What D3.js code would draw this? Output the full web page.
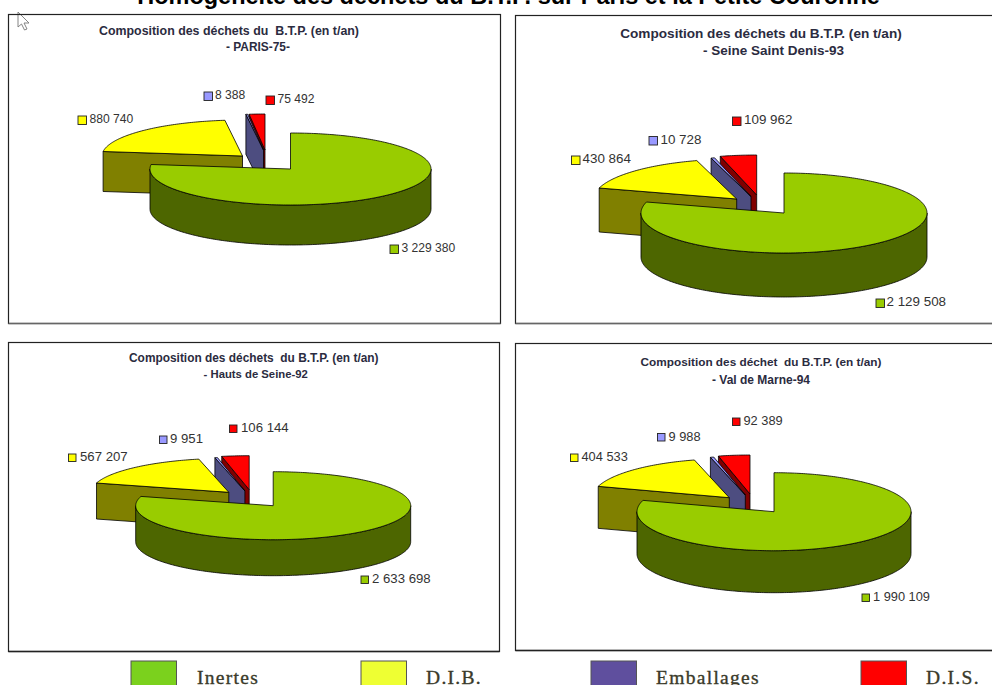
<!DOCTYPE html>
<html><head><meta charset="utf-8">
<script src="https://cdnjs.cloudflare.com/ajax/libs/d3/7.8.5/d3.min.js"></script>
<style>html,body{margin:0;padding:0;background:#fff;overflow:hidden}svg{display:block}</style>
</head><body><svg id="c" width="992" height="685"></svg>
<script>
// DATA
const mainTitle = "Homogénéité des déchets du B.T.P. sur Paris et la Petite Couronne";
const categories = ["Inertes", "D.I.B.", "Emballages", "D.I.S."];
const valuesParis = [3229380, 880740, 8388, 75492];
const valuesSeineSaintDenis = [2129508, 430864, 10728, 109962];
const valuesHautsDeSeine = [2633698, 567207, 9951, 106144];
const valuesValDeMarne = [1990109, 404533, 9988, 92389];
const titleParis = ["Composition des déchets du  B.T.P. (en t/an)", "- PARIS-75-"];
const titleSeine = ["Composition des déchets du B.T.P. (en t/an)", "- Seine Saint Denis-93"];
const titleHauts = ["Composition des déchets  du B.T.P. (en t/an)", "- Hauts de Seine-92"];
const titleVal = ["Composition des déchet  du B.T.P. (en t/an)", "- Val de Marne-94"];

// STYLE / LAYOUT
const topColors = ["#99CC00", "#FFFF00", "#9999FF", "#FF0000"];
const sideColors = ["#4D6600", "#808000", "#4D4D80", "#800000"];
const legendColors = ["#7BD11D", "#EEFF33", "#5F4F9E", "#FF0000"];
const panels = [
  {values: valuesParis, title: titleParis, frame:[8.5,14.5,492,309], bottom:"#666", c:[290.5,169], rx:140.5, ry:36, depth:40,
   off:[[0,0],[-48,-13],[-27,-19],[-25.5,-19]],
   marks:[[390,245],[78,116],[204,92],[266,96]], tx:[401.5,89.5,215,277.5], ms:8.5, ls:12.1, lb:6.5,
   tl:[{x:229,y:35,s:12.4},{x:258,y:50.5,s:11.9}]},
  {values: valuesSeineSaintDenis, title: titleSeine, frame:[515.5,15.5,490,308], bottom:"#666", c:[784,213], rx:143, ry:40, depth:44,
   off:[[0,0],[-47.3,-14],[-33,-16.5],[-27.3,-18]],
   marks:[[876,299],[571.5,156],[649,136.5],[732.5,117]], tx:[886.5,582.5,660.5,744], ms:8.5, ls:13.4, lb:7,
   tl:[{x:761,y:37.5,s:13.6},{x:773.5,y:55,s:13.5}]},
  {values: valuesHautsDeSeine, title: titleHauts, frame:[8.5,342.5,491,309], bottom:"#222", c:[273.2,505.7], rx:137.5, ry:34, depth:36,
   off:[[0,0],[-44.4,-13.4],[-28.3,-14.8],[-24,-16]],
   marks:[[361,576],[68.5,454],[159.5,436],[229.5,425]], tx:[372,80,170,241], ms:7.5, ls:13.2, lb:7,
   tl:[{x:253.8,y:362,s:11.9},{x:255.7,y:377.5,s:11.3}]},
  {values: valuesValDeMarne, title: titleVal, frame:[515.5,343.5,490,307], bottom:"#222", c:[774,511.7], rx:137, ry:39, depth:42,
   off:[[0,0],[-44.7,-14],[-28.7,-16.7],[-24,-17.7]],
   marks:[[862,594],[570.5,454],[657.5,433.5],[732.5,418]], tx:[873,581.5,668.5,743.5], ms:7.5, ls:12.8, lb:7,
   tl:[{x:761,y:366,s:11.8},{x:761,y:383.5,s:12}]}
];
const legendX = [131, 361, 591, 861];
const legendTextX = [197, 426, 656, 926];

const svg = d3.select("#c");
const fmt = d3.formatLocale({decimal:",", thousands:" ", grouping:[3], currency:["",""]}).format(",d");
const pie = d3.pie().sort(null).value(d => d).startAngle(0).endAngle(2*Math.PI);
const line = d3.line();
const outline = {stroke:"#000", width:0.8};

svg.append("text").attr("x", 508.5).attr("y", 4).attr("text-anchor","middle")
  .attr("font-family","'Liberation Sans',Arial,sans-serif").attr("font-weight","bold").attr("font-size",23.5)
  .attr("fill","#000").text(mainTitle);

// mouse pointer
svg.append("path").attr("d","M18 12V27L21.5 24L24.5 30L27 29L24 23H29Z")
  .attr("fill","#fff").attr("stroke","#777").attr("stroke-width",0.9);

panels.forEach(p => {
  const g = svg.append("g");
  g.append("rect").attr("x",p.frame[0]).attr("y",p.frame[1]).attr("width",p.frame[2]).attr("height",p.frame[3])
    .attr("fill","none").attr("stroke","#222").attr("stroke-width",1.2);
  g.append("line").attr("x1",p.frame[0]).attr("x2",p.frame[0]+p.frame[2])
    .attr("y1",p.frame[1]+p.frame[3]).attr("y2",p.frame[1]+p.frame[3])
    .attr("stroke",p.bottom).attr("stroke-width",1.4);
  p.tl.forEach((t,i) => g.append("text").attr("x",t.x).attr("y",t.y).attr("text-anchor","middle")
    .attr("font-family","'Liberation Sans',Arial,sans-serif").attr("font-weight","bold").attr("font-size",t.s)
    .attr("fill","#2b2b40").style("white-space","pre").text(p.title[i]));

  const arcs = pie(p.values);
  const pt = (a, o) => [p.c[0]+o[0]+p.rx*Math.sin(a), p.c[1]+o[1]-p.ry*Math.cos(a)];
  const arcPts = (a0,a1,o) => {
    const n = Math.max(2, Math.ceil((a1-a0)*60));
    return d3.range(n+1).map(i => pt(a0+(a1-a0)*i/n, o));
  };
  const shift = pts => pts.map(d => [d[0], d[1]+p.depth]);
  const face = (pts, fill) => g.append("path").attr("d", line(pts)+"Z").attr("fill",fill)
    .attr("stroke",outline.stroke).attr("stroke-width",outline.width).attr("stroke-linejoin","round");

  [3,2,1,0].forEach(i => {
    const a = arcs[i], o = p.off[i];
    const ctr = [p.c[0]+o[0], p.c[1]+o[1]];
    if (Math.sin(a.startAngle) < -1e-6) {
      const e = pt(a.startAngle, o);
      face([ctr, e, [e[0],e[1]+p.depth], [ctr[0],ctr[1]+p.depth]], sideColors[i]);
    }
    const w0 = Math.max(a.startAngle, Math.PI/2), w1 = Math.min(a.endAngle, 3*Math.PI/2);
    if (w1 > w0) {
      const pts = arcPts(w0, w1, o);
      face(pts.concat(shift(pts).reverse()), sideColors[i]);
    }
    face([ctr].concat(arcPts(a.startAngle, a.endAngle, o)), topColors[i]);
  });

  p.values.forEach((v,i) => {
    g.append("rect").attr("x",p.marks[i][0]).attr("y",p.marks[i][1]).attr("width",p.ms).attr("height",p.ms)
      .attr("fill",topColors[i]).attr("stroke","#222").attr("stroke-width",0.9);
    g.append("text").attr("x",p.tx[i]).attr("y",p.marks[i][1]+p.lb).attr("font-family","'Liberation Sans',Arial,sans-serif")
      .attr("font-size",p.ls).attr("fill","#333").text(fmt(v));
  });
});

categories.forEach((c,i) => {
  svg.append("rect").attr("x",legendX[i]).attr("y",661).attr("width",45.5).attr("height",40)
    .attr("fill",legendColors[i]).attr("stroke","#555").attr("stroke-width",1);
  svg.append("text").attr("x",legendTextX[i]).attr("y",683.5).attr("font-family","'Liberation Serif',serif")
    .attr("font-size",19.5).attr("letter-spacing",1.3).attr("fill","#3a3a2a")
    .attr("stroke","#3a3a2a").attr("stroke-width",0.35).text(c);
});
</script></body></html>
